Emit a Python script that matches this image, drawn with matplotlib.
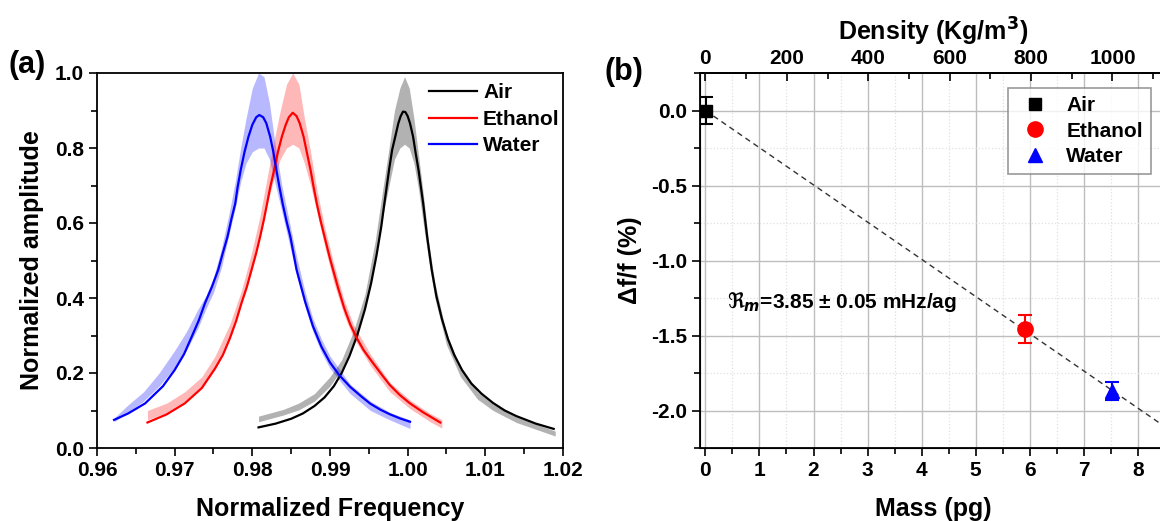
import numpy as np
import matplotlib.pyplot as plt
from matplotlib.ticker import MultipleLocator, FormatStrFormatter

plt.rcParams['font.family'] = ['Liberation Sans', 'DejaVu Sans']
plt.rcParams['font.weight'] = 'bold'
plt.rcParams['axes.labelweight'] = 'bold'
plt.rcParams['axes.unicode_minus'] = False
plt.rcParams['mathtext.fontset'] = 'dejavusans'

# ---- panel (a): fitted resonance curves (normalized frequency, amplitude)
air_fit_f = [0.9808, 0.9830, 0.9850, 0.9865, 0.9880, 0.9893, 0.9905, 0.9915, 0.9925, 0.9935,
             0.9945, 0.9953, 0.9960, 0.9966, 0.9970, 0.9976, 0.9980, 0.9984, 0.9988, 0.9991,
             0.9994, 0.9997, 1.0000, 1.0003, 1.0007, 1.0010, 1.0014, 1.0020, 1.0025, 1.0031,
             1.0037, 1.0044, 1.0052, 1.0060, 1.0070, 1.0082, 1.0095, 1.0110, 1.0125, 1.0140,
             1.0165, 1.0188]
air_fit_a = [0.055, 0.065, 0.078, 0.092, 0.112, 0.135, 0.165, 0.200, 0.245, 0.300,
             0.370, 0.440, 0.515, 0.590, 0.652, 0.741, 0.795, 0.830, 0.866, 0.885,
             0.897, 0.896, 0.885, 0.866, 0.830, 0.790, 0.741, 0.652, 0.565, 0.475,
             0.405, 0.345, 0.290, 0.248, 0.208, 0.172, 0.145, 0.120, 0.100, 0.085,
             0.065, 0.051]

eth_fit_f = [0.9665, 0.9690, 0.9713, 0.9735, 0.9752, 0.9762, 0.9771, 0.9779, 0.9786, 0.9793,
             0.9799, 0.9805, 0.9810, 0.9815, 0.9819, 0.9823, 0.9828, 0.9833, 0.9838, 0.9843,
             0.9847, 0.9852, 0.9857, 0.9861, 0.9866, 0.9870, 0.9875, 0.9879, 0.9883, 0.9888,
             0.9893, 0.9900, 0.9910, 0.9918, 0.9926, 0.9934, 0.9943, 0.9952, 0.9965, 0.9977,
             0.9990, 1.0003, 1.0020, 1.0042]
eth_fit_a = [0.068, 0.090, 0.119, 0.160, 0.212, 0.248, 0.292, 0.338, 0.386, 0.430,
             0.475, 0.520, 0.563, 0.610, 0.652, 0.695, 0.741, 0.790, 0.830, 0.862,
             0.882, 0.894, 0.885, 0.866, 0.830, 0.790, 0.741, 0.695, 0.652, 0.605,
             0.563, 0.505, 0.430, 0.375, 0.330, 0.295, 0.262, 0.236, 0.200, 0.168,
             0.141, 0.119, 0.095, 0.068]

wat_fit_f = [0.9622, 0.9640, 0.9662, 0.9685, 0.9700, 0.9712, 0.9722, 0.9731, 0.9739, 0.9748,
             0.9756, 0.9762, 0.9768, 0.9773, 0.9778, 0.9781, 0.9785, 0.9790, 0.9795, 0.9800,
             0.9805, 0.9809, 0.9814, 0.9818, 0.9823, 0.9827, 0.9831, 0.9835, 0.9839, 0.9844,
             0.9849, 0.9857, 0.9868, 0.9878, 0.9889, 0.9900, 0.9912, 0.9926, 0.9940, 0.9952,
             0.9965, 0.9977, 0.9990, 1.0003]
wat_fit_a = [0.075, 0.092, 0.119, 0.165, 0.208, 0.250, 0.297, 0.340, 0.386, 0.430,
             0.475, 0.520, 0.563, 0.610, 0.652, 0.695, 0.741, 0.790, 0.830, 0.862,
             0.882, 0.888, 0.882, 0.866, 0.830, 0.790, 0.741, 0.695, 0.652, 0.605,
             0.563, 0.475, 0.390, 0.325, 0.270, 0.228, 0.194, 0.163, 0.138, 0.118,
             0.102, 0.090, 0.079, 0.070]

# ---- panel (a): spread of the measured (noisy) spectra: freq, lower, upper
air_raw_f = [0.9808, 0.9840, 0.9860, 0.9880, 0.9900, 0.9915, 0.9930, 0.9945, 0.9958, 0.9968,
             0.9976, 0.9983, 0.9990, 0.9996, 1.0002, 1.0008, 1.0014, 1.0020, 1.0027, 1.0035,
             1.0050, 1.0068, 1.0090, 1.0110, 1.0140, 1.0165, 1.0190]
air_raw_lo = [0.070, 0.088, 0.102, 0.125, 0.165, 0.210, 0.280, 0.375, 0.500, 0.620,
              0.700, 0.770, 0.800, 0.810, 0.800, 0.760, 0.690, 0.600, 0.500, 0.400,
              0.275, 0.190, 0.130, 0.100, 0.068, 0.050, 0.032]
air_raw_hi = [0.085, 0.103, 0.120, 0.145, 0.190, 0.235, 0.310, 0.410, 0.550, 0.690,
              0.800, 0.900, 0.960, 0.990, 0.960, 0.880, 0.780, 0.680, 0.550, 0.440,
              0.305, 0.215, 0.150, 0.117, 0.083, 0.064, 0.045]

eth_raw_f = [0.9665, 0.9690, 0.9713, 0.9735, 0.9752, 0.9771, 0.9786, 0.9799, 0.9810, 0.9819,
             0.9828, 0.9836, 0.9844, 0.9852, 0.9860, 0.9867, 0.9875, 0.9883, 0.9893, 0.9905,
             0.9918, 0.9930, 0.9952, 0.9977, 1.0003, 1.0029, 1.0044]
eth_raw_lo = [0.075, 0.095, 0.125, 0.165, 0.215, 0.300, 0.390, 0.480, 0.570, 0.650,
              0.720, 0.770, 0.800, 0.810, 0.800, 0.760, 0.700, 0.630, 0.540, 0.440,
              0.355, 0.295, 0.220, 0.150, 0.105, 0.070, 0.053]
eth_raw_hi = [0.100, 0.120, 0.150, 0.190, 0.245, 0.330, 0.420, 0.520, 0.620, 0.720,
              0.820, 0.900, 0.970, 1.000, 0.970, 0.880, 0.790, 0.690, 0.590, 0.490,
              0.395, 0.330, 0.250, 0.175, 0.128, 0.092, 0.076]

wat_raw_f = [0.9622, 0.9640, 0.9660, 0.9680, 0.9700, 0.9715, 0.9730, 0.9740, 0.9750, 0.9760,
             0.9770, 0.9778, 0.9785, 0.9792, 0.9800, 0.9808, 0.9815, 0.9822, 0.9830, 0.9838,
             0.9847, 0.9857, 0.9868, 0.9878, 0.9889, 0.9900, 0.9926, 0.9952, 0.9977, 1.0003]
wat_raw_lo = [0.070, 0.095, 0.125, 0.165, 0.215, 0.260, 0.320, 0.370, 0.415, 0.480,
              0.570, 0.640, 0.710, 0.760, 0.790, 0.800, 0.800, 0.770, 0.700, 0.630,
              0.550, 0.460, 0.375, 0.310, 0.255, 0.212, 0.145, 0.100, 0.075, 0.052]
wat_raw_hi = [0.080, 0.115, 0.150, 0.200, 0.260, 0.310, 0.370, 0.405, 0.455, 0.530,
              0.625, 0.710, 0.800, 0.880, 0.960, 1.000, 0.990, 0.920, 0.800, 0.700,
              0.610, 0.510, 0.415, 0.345, 0.290, 0.245, 0.170, 0.125, 0.095, 0.075]

# ---- panel (b): frequency shift vs mass
liquids = ['Air', 'Ethanol', 'Water']
mass_pg = [0.01, 5.92, 7.53]
shift_pct = [0.0, -1.455, -1.867]
shift_err = [0.087, 0.095, 0.06]
fit_mass = [0.0, 8.6]
fit_shift = [0.0, -2.133]
density_per_pg = 1000 / 7.53

fig = plt.figure(figsize=(11.6, 5.21), dpi=100)

# ================= (a) =================
ax1 = fig.add_axes([97 / 1160, 73 / 521, 466 / 1160, 375 / 521])
ax1.fill_between(wat_raw_f, wat_raw_lo, wat_raw_hi, color='blue', alpha=0.28, lw=0)
ax1.fill_between(eth_raw_f, eth_raw_lo, eth_raw_hi, color='red', alpha=0.28, lw=0)
ax1.fill_between(air_raw_f, air_raw_lo, air_raw_hi, color='black', alpha=0.3, lw=0)
ax1.plot(air_fit_f, air_fit_a, color='black', lw=1.6, label='Air')
ax1.plot(eth_fit_f, eth_fit_a, color='red', lw=1.6, label='Ethanol')
ax1.plot(wat_fit_f, wat_fit_a, color='blue', lw=1.6, label='Water')

ax1.set_xlim(0.96, 1.02)
ax1.set_ylim(0, 1.0)
ax1.xaxis.set_major_locator(MultipleLocator(0.01))
ax1.xaxis.set_minor_locator(MultipleLocator(0.005))
ax1.xaxis.set_major_formatter(FormatStrFormatter('%.2f'))
ax1.yaxis.set_major_locator(MultipleLocator(0.2))
ax1.yaxis.set_minor_locator(MultipleLocator(0.1))
ax1.yaxis.set_major_formatter(FormatStrFormatter('%.1f'))
ax1.tick_params(which='both', direction='out', width=1.2, labelsize=15)
ax1.tick_params(which='major', length=6)
ax1.tick_params(which='minor', length=4)
for s in ax1.spines.values():
    s.set_linewidth(1.3)
ax1.set_xlabel('Normalized Frequency', fontsize=18, labelpad=12)
ax1.set_ylabel('Normalized amplitude', fontsize=18, labelpad=8)
ax1.legend(loc='upper left', bbox_to_anchor=(0.69, 1.0), frameon=False, fontsize=15,
           handlelength=2.3, handletextpad=0.3, labelspacing=0.36, borderpad=0)

# ================= (b) =================
ax2 = fig.add_axes([700 / 1160, 73 / 521, 466 / 1160, 375 / 521])
ax2.set_xlim(-0.1, 8.52)
ax2.set_ylim(-2.25, 0.25)
ax2.xaxis.set_major_locator(MultipleLocator(1))
ax2.xaxis.set_minor_locator(MultipleLocator(0.5))
ax2.yaxis.set_major_locator(MultipleLocator(0.5))
ax2.yaxis.set_minor_locator(MultipleLocator(0.25))
ax2.yaxis.set_major_formatter(FormatStrFormatter('%.1f'))
ax2.grid(which='major', color='#bdbdbd', lw=1.0)
ax2.grid(which='minor', color='#e0e0e0', lw=0.9, ls=':')
ax2.set_axisbelow(True)

ax2.plot(fit_mass, fit_shift, color='#333333', lw=1.0, ls=(0, (4, 3)))
colors = ['black', 'red', 'blue']
markers = ['s', 'o', '^']
sizes = [9, 11, 10]
for name, m, d, e, c, mk, ms in zip(liquids, mass_pg, shift_pct, shift_err, colors, markers, sizes):
    ax2.errorbar(m, d, yerr=e, fmt='none', ecolor=c, elinewidth=1.5, capsize=5, capthick=1.5)
    ax2.plot(m, d, marker=mk, color=c, ms=ms, ls='none', label=name)

ax2.tick_params(which='both', direction='out', width=1.2, labelsize=15)
ax2.tick_params(which='major', length=6)
ax2.tick_params(which='minor', length=4)
for s in ax2.spines.values():
    s.set_linewidth(1.3)
ax2.spines['right'].set_visible(False)
ax2.set_xlabel('Mass (pg)', fontsize=18, labelpad=12)
ax2.set_ylabel('Δf/f (%)', fontsize=18, labelpad=6)

top = ax2.twiny()
top.set_xlim(ax2.get_xlim()[0] * density_per_pg, ax2.get_xlim()[1] * density_per_pg)
top.xaxis.set_major_locator(MultipleLocator(200))
top.xaxis.set_minor_locator(MultipleLocator(100))
top.tick_params(which='both', direction='in', width=1.2, labelsize=15)
top.tick_params(which='major', length=6)
top.tick_params(which='minor', length=4)
top.spines['right'].set_visible(False)
top.spines['top'].set_linewidth(1.3)
top.set_xlabel('Density (Kg/m$^\\mathbf{3}$)', fontsize=18, labelpad=6)

ax2.text(0.4, -1.28, r'$\Re_m$=3.85 ± 0.05 mHz/ag', fontsize=15, va='center')

leg = ax2.legend(loc='upper right', bbox_to_anchor=(0.968, 0.96), fontsize=15,
                 fancybox=False, edgecolor='#808080', borderaxespad=0,
                 handlelength=1.8, handletextpad=0.6, labelspacing=0.3, borderpad=0.4)
leg.get_frame().set_linewidth(1.2)

fig.text(8 / 1160, 1 - 65 / 521, '(a)', fontsize=22, fontweight='bold', va='center')
fig.text(605 / 1160, 1 - 72 / 521, '(b)', fontsize=22, fontweight='bold', va='center')

fig.savefig('out.png', dpi=100)
